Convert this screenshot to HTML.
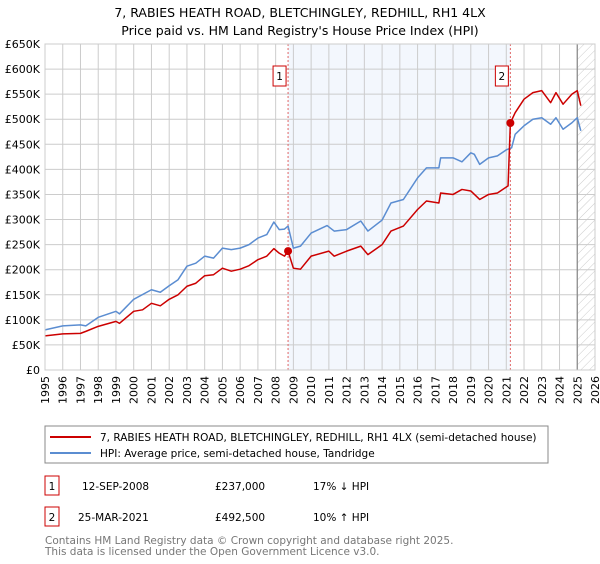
<!DOCTYPE html>
<html><head><meta charset="utf-8"><style>
body{margin:0;background:#fff;font-family:"DejaVu Sans","Liberation Sans",sans-serif;}
</style></head><body>
<svg width="600" height="560" xmlns="http://www.w3.org/2000/svg" font-family="DejaVu Sans, Liberation Sans, sans-serif">
<defs><pattern id="hatch" width="6" height="6" patternUnits="userSpaceOnUse" patternTransform="rotate(45)"><line x1="0" y1="0" x2="0" y2="6" stroke="#ccc" stroke-width="1"/></pattern></defs>
<text x="300" y="17" text-anchor="middle" font-size="12.5">7, RABIES HEATH ROAD, BLETCHINGLEY, REDHILL, RH1 4LX</text>
<text x="300" y="35" text-anchor="middle" font-size="12.5">Price paid vs. HM Land Registry's House Price Index (HPI)</text>
<g id="plot"></g>
<g>
<rect x="45" y="426" width="503" height="37" fill="#fff" stroke="#888"/>
<line x1="50" y1="437" x2="91" y2="437" stroke="#cc0000" stroke-width="2"/>
<text x="100" y="441" font-size="10.5">7, RABIES HEATH ROAD, BLETCHINGLEY, REDHILL, RH1 4LX (semi-detached house)</text>
<line x1="50" y1="453" x2="91" y2="453" stroke="#5b8dd1" stroke-width="2"/>
<text x="100" y="457" font-size="10.5">HPI: Average price, semi-detached house, Tandridge</text>
</g>
<g font-size="10.5">
<rect x="45" y="476" width="14" height="19" fill="none" stroke="#cc0000"/><text x="52" y="490" text-anchor="middle">1</text>
<text x="82" y="490">12-SEP-2008</text><text x="215" y="490">£237,000</text><text x="313" y="490">17% ↓ HPI</text>
<rect x="45" y="507" width="14" height="19" fill="none" stroke="#cc0000"/><text x="52" y="521" text-anchor="middle">2</text>
<text x="78" y="521">25-MAR-2021</text><text x="215" y="521">£492,500</text><text x="313" y="521">10% ↑ HPI</text>
</g>
<text x="45" y="544" font-size="10.5" fill="#777">Contains HM Land Registry data © Crown copyright and database right 2025.</text>
<text x="45" y="555" font-size="10.5" fill="#777">This data is licensed under the Open Government Licence v3.0.</text>
</svg>
<script>
const yTicks=[0,50,100,150,200,250,300,350,400,450,500,550,600,650];
const yearTicks=[1995,1996,1997,1998,1999,2000,2001,2002,2003,2004,2005,2006,2007,2008,2009,2010,2011,2012,2013,2014,2015,2016,2017,2018,2019,2020,2021,2022,2023,2024,2025,2026];
const hpiYears=[1995,1996,1997,1997.3,1998,1999,1999.2,2000,2001,2001.5,2002,2002.5,2003,2003.5,2004,2004.5,2005,2005.5,2006,2006.5,2007,2007.5,2007.9,2008.2,2008.5,2008.7,2009,2009.4,2010,2010.9,2011.3,2012,2012.8,2013.2,2014,2014.5,2015.2,2016,2016.5,2017.2,2017.3,2018,2018.5,2019,2019.2,2019.5,2020,2020.5,2021,2021.3,2021.5,2022,2022.5,2023,2023.5,2023.8,2024.2,2024.7,2025,2025.2];
const hpiValues=[80,88,90,88,105,117,112,141,160,155,168,180,207,213,227,223,243,240,243,250,263,270,295,280,281,287,243,247,273,288,277,280,297,277,299,333,340,383,403,403,423,423,415,433,430,410,423,427,439,443,470,487,500,503,490,503,480,493,503,477];
const ppYears=[1995,1996,1997,1997.3,1998,1999,1999.2,2000,2000.5,2001,2001.5,2002,2002.5,2003,2003.5,2004,2004.5,2005,2005.5,2006,2006.5,2007,2007.5,2007.9,2008.2,2008.5,2008.7,2009,2009.4,2010,2011,2011.3,2012,2012.8,2013.2,2014,2014.5,2015.2,2016,2016.5,2017.2,2017.3,2018,2018.5,2019,2019.5,2020,2020.5,2021.1,2021.23,2021.5,2022,2022.5,2023,2023.5,2023.8,2024.2,2024.7,2025,2025.2];
const ppValues=[68,72,73,77,87,97,93,117,120,133,128,141,150,167,173,188,190,203,197,201,208,220,227,242,233,227,237,203,201,227,237,227,237,247,230,250,277,287,320,337,333,353,350,360,357,340,350,353,367,492.5,513,540,553,557,533,553,530,550,557,527];
const saleYears=[2008.7,2021.23];
const saleValues=[237,492.5];
const saleLabels=["1","2"];
const X0=45,X1=595,Y0=370,Y1=44;
const xs=y=>X0+(y-1995)/(2026-1995)*(X1-X0);
const ys=v=>Y0-v/650*(Y0-Y1);
const NS="http://www.w3.org/2000/svg";
const g=document.getElementById('plot');
function mk(t,a,p){const e=document.createElementNS(NS,t);for(const k in a)e.setAttribute(k,a[k]);(p||g).appendChild(e);return e;}
let bg=mk('rect',{x:X0,y:Y1,width:X1-X0,height:Y0-Y1,fill:'#fff'});


let sh=mk('rect',{x:xs(saleYears[0]),y:Y1,width:xs(saleYears[1])-xs(saleYears[0]),height:Y0-Y1,fill:'#eef3fc',opacity:0.7});


let ht=mk('rect',{x:xs(2025.0),y:Y1,width:X1-xs(2025.0),height:Y0-Y1,fill:'url(#hatch)'});


yTicks.forEach(v=>{
 let l=mk('line',{x1:X0,x2:X1,y1:ys(v),y2:ys(v),stroke:'#ccc'});
 
 
 let t=mk('text',{x:X0-5,y:ys(v)+4,'text-anchor':'end','font-size':'11'});
 t.textContent=v===0?'£0':'£'+v+'K';
 
 
});
yearTicks.forEach(yr=>{
 let l=mk('line',{x1:xs(yr),x2:xs(yr),y1:Y1,y2:Y0,stroke:'#ccc'});
 
 
 let t=mk('text',{x:0,y:0,'text-anchor':'end','font-size':'11',transform:`translate(${xs(yr)+4},${Y0+6}) rotate(-90)`});
 t.textContent=yr;
 
 
});
let bl=mk('line',{x1:xs(2025.0),x2:xs(2025.0),y1:Y1,y2:Y0,stroke:'#888','stroke-width':1.2});


saleYears.forEach((yr,i)=>{
 let l=mk('line',{x1:xs(yr),x2:xs(yr),y1:Y1,y2:Y0,stroke:'#e06666','stroke-dasharray':'2,2'});
 
 
 let r=mk('rect',{x:xs(yr)-15,y:66,width:13,height:20,fill:'#fff',stroke:'#cc0000'});
 
 
 let t=mk('text',{x:xs(yr)-8.5,y:80,'text-anchor':'middle','font-size':'10.5'});
 t.textContent=saleLabels[i];
 
 
});
function line(xa,va,c,name){
 let p=mk('polyline',{points:xa.map((x,i)=>xs(x)+','+ys(va[i])).join(' '),fill:'none',stroke:c,'stroke-width':1.5,'stroke-linejoin':'round'});
 
 
}
line(hpiYears,hpiValues,'#5b8dd1','hpi-line');
line(ppYears,ppValues,'#cc0000','property-price-line');
saleYears.forEach((yr,i)=>{
 let c=mk('circle',{cx:xs(yr),cy:ys(saleValues[i]),r:4,fill:'#cc0000'});
 
 
});
let fr=mk('rect',{x:X0,y:Y1,width:X1-X0,height:Y0-Y1,fill:'none',stroke:'#ccc'});


</script>
</body></html>
